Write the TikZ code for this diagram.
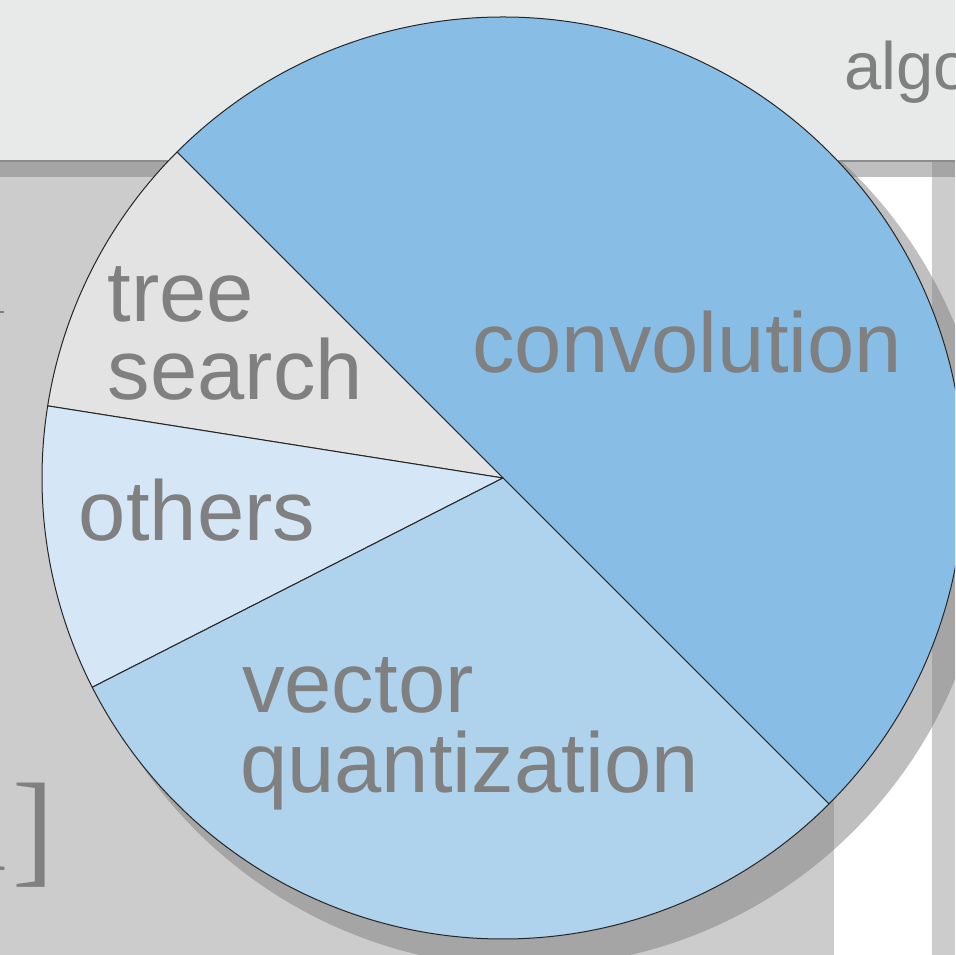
\documentclass[tikz,border=0pt]{standalone}
\usepackage{fontspec}
\setmainfont{Liberation Sans}
\newfontfamily\serifbr{Liberation Serif}
\definecolor{bgband}{HTML}{E8EAEA}
\definecolor{bggray}{HTML}{CCCCCC}
\definecolor{shade}{HTML}{808080}
\definecolor{txtgray}{HTML}{808080}
\definecolor{convcol}{HTML}{88BEE6}
\definecolor{treecol}{HTML}{E3E3E3}
\definecolor{othcol}{HTML}{D5E7F6}
\definecolor{vqcol}{HTML}{AFD2ED}
\tikzset{
  slice/.style={draw=black!85, line width=1pt, line join=round},
  lbl/.style={text=txtgray, inner sep=0pt, anchor=base west, font=\fontsize{85}{85}\selectfont},
  shadowfill/.style={fill=shade, fill opacity=0.5}
}
\begin{document}
\begin{tikzpicture}[x=1pt,y=1pt]
\useasboundingbox (0,0) rectangle (955,955);
\clip (0,0) rectangle (955,955);
% background
\fill[bggray] (0,0) rectangle (955,955);
\fill[white] (834,0) rectangle (932,795);
% pie shadow
\fill[shadowfill] (525,453) circle[radius=465pt];
% top band
\fill[bgband] (0,795) rectangle (955,955);
\fill[black!45] (0,793) rectangle (955,795);
\fill[shadowfill] (0,778) rectangle (955,793);
% small cut-off marks
\draw[txtgray, line width=1.5pt] (0,643) -- (4,643);
\node[text=txtgray, inner sep=0pt, anchor=base east, font=\serifbr\fontsize{126}{126}\selectfont] (ref) at (55,84) {1]};
\node[lbl, font=\fontsize{67}{67}\selectfont] (algo) at (844,865) {algo};
% pie
\coordinate (C) at (503,477);
\filldraw[slice, fill=convcol] (C) -- ++(-45:461pt) arc[start angle=-45, end angle=135, radius=461pt] -- cycle;
\filldraw[slice, fill=treecol] (C) -- ++(135:461pt) arc[start angle=135, end angle=171, radius=461pt] -- cycle;
\filldraw[slice, fill=othcol] (C) -- ++(171:461pt) arc[start angle=171, end angle=207, radius=461pt] -- cycle;
\filldraw[slice, fill=vqcol] (C) -- ++(207:461pt) arc[start angle=207, end angle=315, radius=461pt] -- cycle;
% labels
\node[lbl] (conv) at (472,582.3) {convolution};
\node[lbl] (tree) at (107.5,633.3) {tree};
\node[lbl] (search) at (107.5,555) {search};
\node[lbl] (others) at (78.7,414.3) {others};
\node[lbl] (vector) at (242,242.3) {vector};
\node[lbl] (quant) at (240,162) {quantization};
\end{tikzpicture}
\end{document}
